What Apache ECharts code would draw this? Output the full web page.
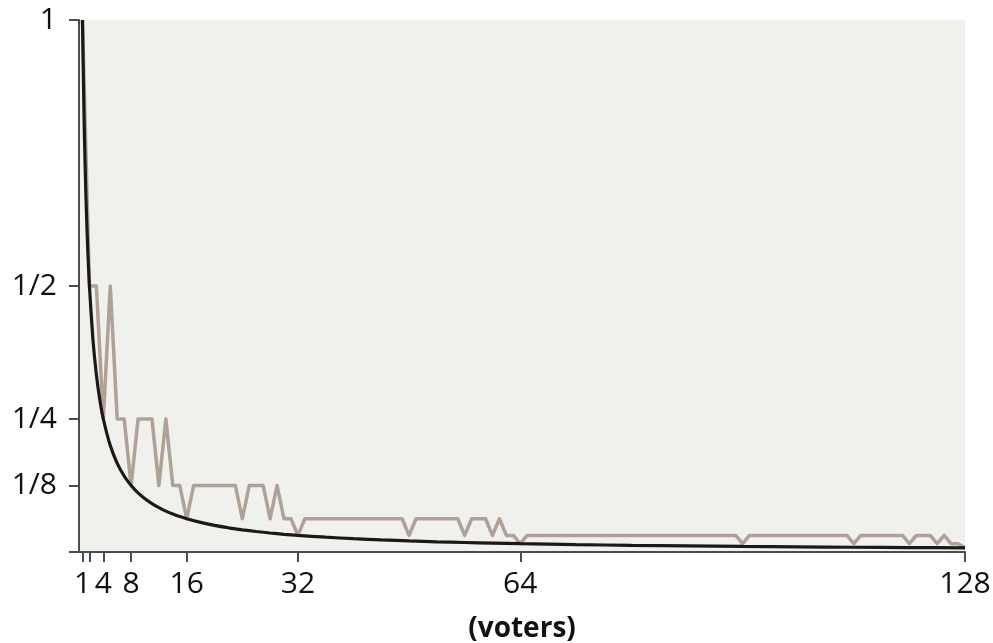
<!DOCTYPE html>
<html>
<head>
<meta charset="utf-8">
<script src="https://cdn.jsdelivr.net/npm/echarts@6/dist/echarts.min.js"></script>
<style>
html,body{margin:0;padding:0;background:#fff;}
#c{width:993px;height:643px;}
</style>
</head>
<body>
<div id="c"></div>
<script>
// Grey series: observed value for 1..128 voters
const observed = [
  1, 0.5, 0.5, 0.25, 0.5, 0.25, 0.25, 0.125, 0.25, 0.25,
  0.25, 0.125, 0.25, 0.125, 0.125, 0.0625, 0.125, 0.125, 0.125, 0.125,
  0.125, 0.125, 0.125, 0.0625, 0.125, 0.125, 0.125, 0.0625, 0.125, 0.0625,
  0.0625, 0.03125, 0.0625, 0.0625, 0.0625, 0.0625, 0.0625, 0.0625, 0.0625, 0.0625,
  0.0625, 0.0625, 0.0625, 0.0625, 0.0625, 0.0625, 0.0625, 0.03125, 0.0625, 0.0625,
  0.0625, 0.0625, 0.0625, 0.0625, 0.0625, 0.03125, 0.0625, 0.0625, 0.0625, 0.03125,
  0.0625, 0.03125, 0.03125, 0.015625, 0.03125, 0.03125, 0.03125, 0.03125, 0.03125, 0.03125,
  0.03125, 0.03125, 0.03125, 0.03125, 0.03125, 0.03125, 0.03125, 0.03125, 0.03125, 0.03125,
  0.03125, 0.03125, 0.03125, 0.03125, 0.03125, 0.03125, 0.03125, 0.03125, 0.03125, 0.03125,
  0.03125, 0.03125, 0.03125, 0.03125, 0.03125, 0.015625, 0.03125, 0.03125, 0.03125, 0.03125,
  0.03125, 0.03125, 0.03125, 0.03125, 0.03125, 0.03125, 0.03125, 0.03125, 0.03125, 0.03125,
  0.03125, 0.015625, 0.03125, 0.03125, 0.03125, 0.03125, 0.03125, 0.03125, 0.03125, 0.015625,
  0.03125, 0.03125, 0.03125, 0.015625, 0.03125, 0.015625, 0.015625, 0.0078125
];
// Black curve: expected value
const expectedX = [1, 1.25, 1.5, 1.75, 2, 2.5, 3, 3.5, 4, 5, 6, 7, 8, 9, 10, 11, 12, 13, 14, 15, 16,
  18, 20, 22, 24, 26, 28, 30, 32, 36, 40, 44, 48, 52, 56, 60, 64, 72, 80, 88, 96, 104, 112, 120, 128];
const expectedY = [1, 0.8, 0.6667, 0.5714, 0.5, 0.4, 0.3333, 0.2857, 0.25, 0.2, 0.1667, 0.1429, 0.125,
  0.1111, 0.1, 0.0909, 0.0833, 0.0769, 0.0714, 0.0667, 0.0625,
  0.0556, 0.05, 0.0455, 0.0417, 0.0385, 0.0357, 0.0333, 0.03125, 0.0278, 0.025, 0.0227, 0.0208,
  0.0192, 0.0179, 0.0167, 0.0156, 0.0139, 0.0125, 0.0114, 0.0104, 0.0096, 0.0089, 0.0083, 0.0078];

const xTickValues = [1, 2, 4, 8, 16, 32, 64, 128];
const xLabelValues = [1, 4, 8, 16, 32, 64, 128];
const yTickValues = [0, 0.125, 0.25, 0.5, 1];
const yLabelValues = [0.125, 0.25, 0.5, 1];
const yLabelTexts = ['1/8', '1/4', '1/2', '1'];
const xAxisTitle = '(voters)';

const font = "'Open Sans', 'Noto Sans', sans-serif";
const axisColor = '#454d57';

const chart = echarts.init(document.getElementById('c'), null, {renderer: 'canvas'});
chart.setOption({
  animation: false,
  backgroundColor: '#ffffff',
  grid: {
    left: 79, right: 28, top: 20, bottom: 91,
    outerBoundsMode: 'none', containLabel: false,
    show: true, backgroundColor: '#f0f0ec', borderWidth: 0
  },
  xAxis: {
    type: 'value',
    min: 0.5, max: 128,
    name: xAxisTitle,
    nameLocation: 'middle',
    nameGap: 63,
    nameTextStyle: {fontFamily: font, fontSize: 28, fontWeight: 'bold', color: '#111'},
    axisLine: {show: true, onZero: false, lineStyle: {color: axisColor, width: 2}},
    axisTick: {show: true, length: 10, lineStyle: {color: axisColor, width: 2}, customValues: xTickValues},
    axisLabel: {show: true, customValues: xLabelValues, fontFamily: font, fontSize: 30, color: '#111', margin: 17,
      formatter: v => String(v)},
    splitLine: {show: false}
  },
  yAxis: {
    type: 'value',
    min: 0, max: 1,
    axisLine: {show: true, lineStyle: {color: axisColor, width: 2}},
    axisTick: {show: true, length: 10, lineStyle: {color: axisColor, width: 2}, customValues: yTickValues},
    axisLabel: {show: true, customValues: yLabelValues, fontFamily: font, fontSize: 30, color: '#111', margin: 22,
      formatter: v => { const i = yLabelValues.indexOf(v); return i >= 0 ? yLabelTexts[i] : ''; }},
    splitLine: {show: false}
  },
  series: [
    {
      type: 'line',
      data: observed.map((v, i) => [i + 1, v]),
      showSymbol: false,
      lineStyle: {color: '#b0a196', width: 3.5, join: 'round'},
      z: 2
    },
    {
      type: 'line',
      data: expectedX.map((x, i) => [x, expectedY[i]]),
      showSymbol: false,
      smooth: 0.2,
      lineStyle: {color: '#1c1816', width: 3.2},
      z: 3
    }
  ]
});
</script>
</body>
</html>
